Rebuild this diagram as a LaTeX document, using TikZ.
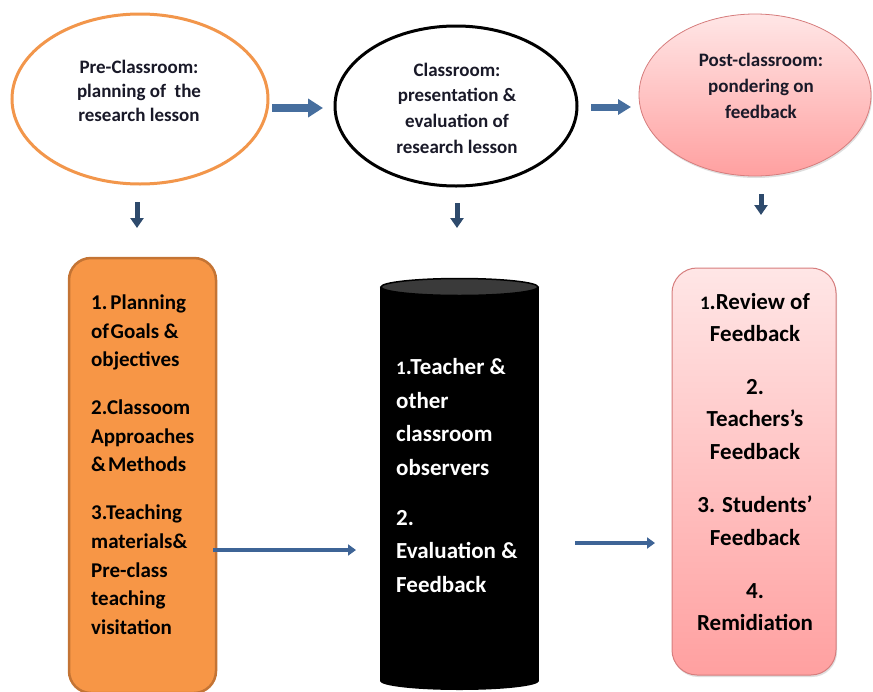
\documentclass[tikz,border=0pt]{standalone}
\usepackage{fontspec}
\setmainfont{Carlito}
\usetikzlibrary{shapes.geometric,arrows.meta,shadows}

\definecolor{preline}{RGB}{242,150,75}
\definecolor{orfill}{RGB}{247,150,70}
\definecolor{orline}{RGB}{196,116,52}
\definecolor{pinktop}{RGB}{255,230,230}
\definecolor{pinkbot}{RGB}{255,160,160}
\definecolor{pinkline}{RGB}{214,125,125}
\definecolor{blockblue}{RGB}{70,110,158}
\definecolor{downblue}{RGB}{46,74,108}
\definecolor{lineblue}{RGB}{62,100,150}
\definecolor{captop}{RGB}{58,58,58}
\definecolor{inktext}{RGB}{25,25,40}

\begin{document}
\begin{tikzpicture}[x=1pt,y=-1pt,
  phase/.style={ellipse,inner sep=0pt},
  phasetext/.style={align=center,inner sep=0pt,text=inktext},
  blockarrow/.style={draw=blockblue,line width=8pt,
    -{Triangle[width=18pt,length=15pt]}},
  smallblock/.style={draw=blockblue,line width=7pt,
    -{Triangle[width=15pt,length=13pt]}},
  downarrow/.style={draw=downblue,line width=5pt,
    -{Triangle[width=13pt,length=10pt]}},
  flowarrow/.style={draw=lineblue,line width=4pt,
    -{Triangle[width=11pt,length=8pt]}},
  listtext/.style={inner sep=0pt}]
\useasboundingbox (0,0) rectangle (873,691);

% three phase ellipses
\node[phase,draw=preline,line width=3pt,fill=white,
  minimum width=256pt,minimum height=170pt] (pre) at (140,99) {};
\node[phase,draw=black,line width=3pt,fill=white,
  minimum width=242pt,minimum height=160pt] (cls) at (456,106) {};
\node[phase,draw=pinkline,line width=0.8pt,top color=pinktop,bottom color=pinkbot,
  drop shadow={opacity=0.25,shadow xshift=1pt,shadow yshift=-2pt},
  minimum width=232pt,minimum height=162pt] (post) at (755,95) {};

\node[phasetext,font=\fontsize{19}{24}\selectfont\bfseries] (pret) at (139,90.7)
  {Pre-Classroom:\\planning of\ \ the\\research lesson};
\node[phasetext,font=\fontsize{19}{25.7}\selectfont\bfseries] (clst) at (457,108)
  {Classroom:\\presentation \&\\evaluation of\\research lesson};
\node[phasetext,font=\fontsize{19}{26}\selectfont\bfseries] (postt) at (761,85.7)
  {Post-classroom:\\pondering on\\feedback};

% arrows between the phases
\coordinate (b1s) at (272,108);
\coordinate (b1e) at (323,108);
\coordinate (b2s) at (591,107);
\coordinate (b2e) at (631,107);
\draw[blockarrow] (b1s) -- (b1e);
\draw[smallblock] (b2s) -- (b2e);

% arrows down to the detail boxes
\coordinate (d1s) at (137,202);
\coordinate (d1e) at (137,228);
\coordinate (d2s) at (457,203);
\coordinate (d2e) at (457,228);
\coordinate (d3s) at (761,194);
\coordinate (d3e) at (761,215);
\draw[downarrow] (d1s) -- (d1e);
\draw[downarrow] (d2s) -- (d2e);
\draw[downarrow] (d3s) -- (d3e);

% pre-classroom detail box
\node[draw=orline,line width=2.5pt,fill=orfill,rounded corners=22pt,
  minimum width=147pt,minimum height=435pt,inner sep=0pt] (plan) at (142.5,475.5) {};
\node[listtext,anchor=west,align=left,text=black,
  font=\fontsize{21}{28.7}\selectfont\bfseries] (plant) at (91,464.7)
  {1.\hspace{3pt}Planning\\of\hspace{1.5pt}Goals \&\\objectives\\[19pt]
   2.Classoom\\Approaches\\\&\hspace{2pt}Methods\\[19pt]
   3.Teaching\\materials\&\\Pre-class\\teaching\\visitation};

% classroom cylinder
\fill[black] (380,287) rectangle (539,681);
\fill[black] (459.5,681) ellipse [x radius=79.5, y radius=9];
\filldraw[fill=captop,draw=black,line width=1.5pt] (459.5,287) ellipse [x radius=78.5, y radius=8.5];
\node[listtext,anchor=west,align=left,text=white,
  font=\fontsize{23}{33.7}\selectfont\bfseries] (obst) at (396,475.5)
  {{\fontsize{19}{20}\selectfont 1}.Teacher \&\\other\\classroom\\observers\\[16pt]
   2.\\Evaluation \&\\Feedback};

% post-classroom detail box
\node[draw=pinkline,line width=1pt,top color=pinktop,bottom color=pinkbot,
  rounded corners=25pt,drop shadow={opacity=0.25,shadow xshift=1pt,shadow yshift=-2pt},
  minimum width=164pt,minimum height=407pt,inner sep=0pt] (fb) at (754,471.5) {};
\node[listtext,align=center,text=black,
  font=\fontsize{23}{32.5}\selectfont\bfseries] (fbt) at (755,462)
  {{\fontsize{19}{20}\selectfont 1}.Review of\\Feedback\\[20pt]
   2.\\Teachers’s\\Feedback\\[21pt]
   3. Students’\\Feedback\\[20.5pt]
   4.\\Remidiation};

% flow arrows between the detail boxes
\coordinate (f1s) at (213,550);
\coordinate (f1e) at (356,550);
\coordinate (f2s) at (575,543);
\coordinate (f2e) at (655,543);
\draw[flowarrow] (f1s) -- (f1e);
\draw[flowarrow] (f2s) -- (f2e);
\end{tikzpicture}
\end{document}
